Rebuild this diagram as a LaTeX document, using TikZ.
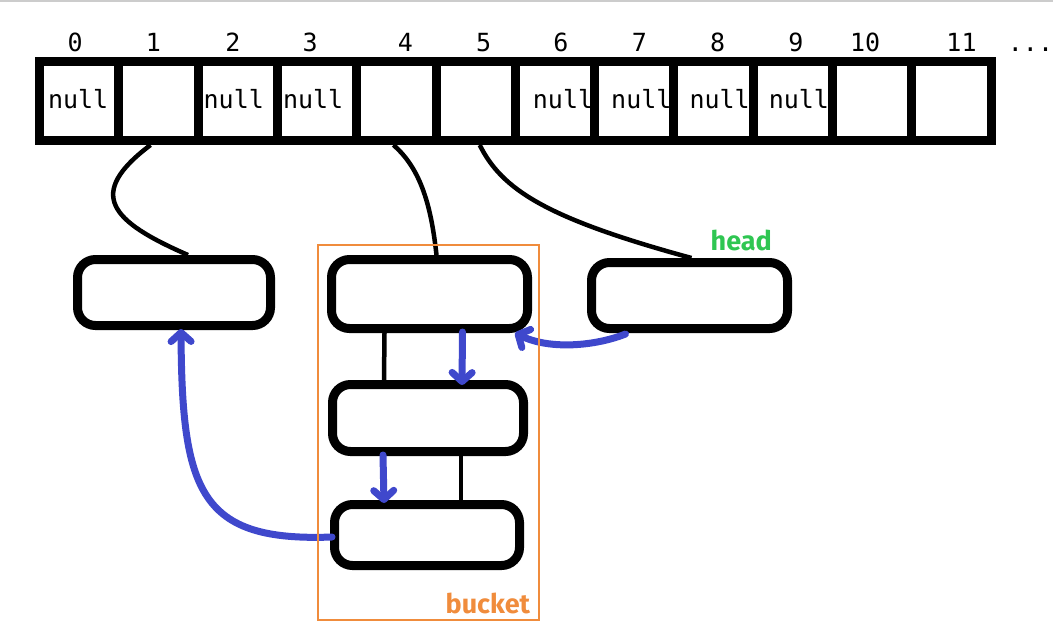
\documentclass[tikz,border=0pt]{standalone}
\usepackage{fontspec}
\setmonofont{DejaVu Sans Mono}
\newfontfamily\tagfont{Fira Sans}
\usetikzlibrary{arrows.meta,calc}

\definecolor{bucketorange}{RGB}{240,140,60}
\definecolor{headgreen}{RGB}{47,198,82}
\definecolor{ptrblue}{RGB}{63,72,204}

\begin{document}
\begin{tikzpicture}[x=1pt, y=-1pt,
    slot/.style={draw, line width=9pt, minimum width=79.3pt, minimum height=79pt, inner sep=0pt},
    idx/.style={font=\ttfamily\fontsize{25}{30}\selectfont, anchor=base, inner sep=0pt},
    entry/.style={draw, line width=9pt, rounded corners=18pt, minimum width=194pt, minimum height=66pt},
    link/.style={line width=4.5pt},
    ptr/.style={draw=ptrblue, line width=7pt, line cap=round,
        -{Straight Barb[length=9pt, width=20pt, round]}},
    tag/.style={font=\tagfont\bfseries\fontsize{27}{32}\selectfont, inner sep=0pt},
]

    \useasboundingbox (0,0) rectangle (1053,633);
    \draw[black!20, line width=2pt] (0,1) -- (1053,1);

    % table slots 0..11
    \foreach \i in {0,...,11}
        \node[slot] (s\i) at ({79.2+79.3*\i},101) {};

    % indices above the slots
    \foreach \i/\dx in {0/-4,1/-5,2/-5,3/-7,4/9,5/8,6/6,7/5,8/4,9/3,10/-7,11/10}
        \node[idx] (k\i) at ($(s\i.north)+(\dx,-6)$) {\i};
    \node[idx] (more) at ($(s11.north)+(79,-6)$) {...};

    % empty slots
    \foreach \i/\dx in {0/-1,2/-4,3/-4,6/8,7/7,8/6,9/6}
        \node[idx] (z\i) at ($(s\i.center)+(\dx,7)$) {null};

    % entries
    \node[entry, minimum width=193pt] (e1) at (174,292.5) {};
    \node[entry, minimum width=196pt, minimum height=69pt] (b1) at (429.5,294) {};
    \node[entry, minimum width=196pt] (head) at (689.5,295.5) {};
    \node[entry, minimum width=191pt, minimum height=67pt] (b2) at (428,418) {};
    \node[entry, minimum width=185pt, minimum height=61pt] (b3) at (427,535) {};

    % slot -> entry
    \draw[link] ($(s1.south)+(-8,0)$) .. controls +(-65,49) and +(-78,-34) .. ($(e1.north)+(14,0)$);
    \draw[link] ($(s4.south)+(-3,0)$) .. controls +(29,25) and +(-5,-45) .. ($(b1.north)+(7,0)$);
    \draw[link] ($(s5.south)+(4,0)$) .. controls +(22,44) and +(-147,-40) .. ($(head.north)+(2,0)$);

    % chain inside the bucket
    \draw[link] ($(b1.south)+(-45,0)$) -- ($(b2.north)+(-44,0)$);
    \draw[link] ($(b2.south)+(33,0)$) -- ($(b3.north)+(34,0)$);

    % pointers
    \draw[ptr] ($(b1.south)+(33,-1)$) -- ($(b2.north)+(34,5)$);
    \draw[ptr] ($(b2.south)+(-45,-1)$) -- ($(b3.north)+(-43,3)$);
    \draw[ptr] ($(head.south)+(-64,1)$) .. controls +(-30,12) and +(35,17) .. ($(b1.south east)+(-17,0)$);
    \draw[ptr] ($(b3.west)+(2,2)$) .. controls +(-132,5) and +(1,163) .. ($(e1.south)+(7,-1)$);

    % bucket frame and labels
    \node[draw=bucketorange, line width=2.5pt, minimum width=221pt, minimum height=375pt, inner sep=0pt] (bk) at (428.5,432.5) {};
    \node[tag, text=bucketorange, anchor=base east] (bklabel) at ($(bk.south east)+(-10,-8)$) {bucket};
    \node[tag, text=headgreen, anchor=base west] (headlabel) at ($(head.north)+(21,-8)$) {head};

\end{tikzpicture}
\end{document}
